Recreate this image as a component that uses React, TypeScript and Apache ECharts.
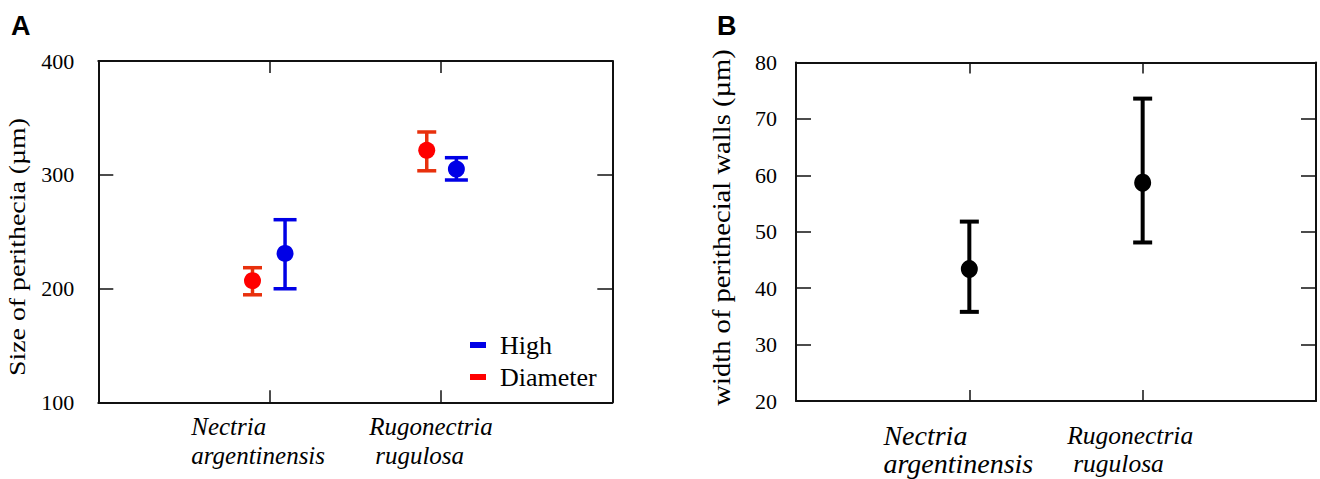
import React, { useEffect, useRef } from "react";
import * as echarts from "echarts";

// ---- data ----
const categoryLines = [
  ["Nectria", "argentinensis"],
  ["Rugonectria", "rugulosa"],
];
const seriesNames = ["High", "Diameter"];

// Panel A: size of perithecia (µm)
const diameterMean = [206.9, 321.5];
const diameterLow = [194.5, 303.5];
const diameterHigh = [218.3, 337.6];
const highMean = [230.9, 305.0];
const highLow = [199.8, 295.4];
const highHigh = [260.5, 315.0];
const sizeAxis = { min: 100, max: 400, interval: 100 };

// Panel B: width of perithecial walls (µm)
const wallMean = [43.4, 58.7];
const wallLow = [35.8, 48.1];
const wallHigh = [51.8, 73.6];
const wallAxis = { min: 20, max: 80, interval: 10 };

// dodge of the two series around each category (data units)
const DODGE_DIAMETER = [-0.1, -0.083];
const DODGE_HIGH = [0.09, 0.09];

const SERIF = "Liberation Serif";
const SANS = "Liberation Sans";
const INK = "#000";

const RED_BAR = "#e8300c";
const RED_DOT = "#ff0000";
const BLUE = "#0000e6";
const BLACK = "#000000";

function errRender(capW: number, color: string, lw: number) {
  return (params: any, api: any) => {
    const x = api.value(0);
    const lo = api.coord([x, api.value(1)]);
    const hi = api.coord([x, api.value(2)]);
    const h = capW / 2;
    const style = { stroke: color, lineWidth: lw };
    return {
      type: "group",
      children: [
        { type: "line", shape: { x1: lo[0], y1: lo[1], x2: hi[0], y2: hi[1] }, style },
        { type: "line", shape: { x1: lo[0] - h, y1: lo[1], x2: lo[0] + h, y2: lo[1] }, style },
        { type: "line", shape: { x1: hi[0] - h, y1: hi[1], x2: hi[0] + h, y2: hi[1] }, style },
      ],
    };
  };
}

function frameAxes(gridIndex: number, yCfg: { min: number; max: number; interval: number }, xTickLen: number) {
  const line = { show: true, onZero: false, lineStyle: { color: "#111", width: 2 } };
  const mk = (kind: "x" | "y", position: string, len: number) => ({
    gridIndex,
    type: "value",
    position,
    min: kind === "x" ? 0 : yCfg.min,
    max: kind === "x" ? 3 : yCfg.max,
    interval: kind === "x" ? 1 : yCfg.interval,
    axisLine: line,
    axisTick: { show: true, inside: true, length: len, lineStyle: { color: "#111", width: 1.5 } },
    splitLine: { show: false },
    axisLabel: { show: false } as any,
  });
  return {
    xs: [mk("x", "bottom", xTickLen), mk("x", "top", xTickLen)],
    ys: [mk("y", "left", 15), mk("y", "right", 15)],
  };
}

function catRich(nSize: number, rSize: number, lh: number, pads: number[]) {
  const base = (size: number) => ({
    align: "left",
    fontStyle: "italic",
    fontFamily: SERIF,
    fontSize: size,
    lineHeight: lh,
    color: INK,
  });
  return {
    n1: base(nSize),
    n2: { ...base(nSize), padding: [0, pads[0], 0, 0] },
    r1: { ...base(rSize), padding: [0, pads[1], 0, 0] },
    r2: { ...base(rSize), padding: [0, 0, 0, pads[2]] },
  };
}

const catFormatter = (v: number) =>
  v === 1
    ? `{n1|${categoryLines[0][0]}}\n{n2|${categoryLines[0][1]}}`
    : v === 2
    ? `{r1|${categoryLines[1][0]}}\n{r2|${categoryLines[1][1]}}`
    : "";

export default function App() {
  const ref = useRef<HTMLDivElement>(null);

  useEffect(() => {
    if (!ref.current) return;
    const chart = echarts.init(ref.current, null, { renderer: "svg" });

    const a = frameAxes(0, sizeAxis, 12);
    const b = frameAxes(1, wallAxis, 11);

    a.xs[0].axisLabel = {
      show: true,
      margin: 10,
      fontFamily: SERIF,
      formatter: catFormatter,
      rich: catRich(25, 25, 29, [23, 20, 6]),
    };
    b.xs[0].axisLabel = {
      show: true,
      margin: 20,
      fontFamily: SERIF,
      formatter: catFormatter,
      rich: catRich(28, 25.5, 28, [22, 25, 6]),
    };

    a.ys[0].axisLabel = {
      show: true,
      margin: 24,
      fontFamily: SERIF,
      fontSize: 22,
      color: INK,
      padding: [8, 0, 0, 0],
    };
    b.ys[0].axisLabel = {
      show: true,
      margin: 19,
      fontFamily: SERIF,
      fontSize: 22,
      color: INK,
      padding: [9, 0, 0, 0],
    };

    const xA = (i: number, d: number[]) => i + 1 + d[i];

    const option: any = {
      animation: false,
      backgroundColor: "#ffffff",
      textStyle: { fontFamily: SERIF },
      grid: [
        { left: 98.3, top: 61, width: 514, height: 341.3 },
        { left: 796, top: 62.5, width: 520, height: 338.5 },
      ],
      xAxis: [...a.xs, ...b.xs],
      yAxis: [...a.ys, ...b.ys],
      legend: {
        data: seriesNames,
        orient: "vertical",
        left: 470,
        top: 332,
        padding: 0,
        itemWidth: 16,
        itemHeight: 6,
        itemGap: 6,
        icon: "rect",
        selectedMode: false,
        textStyle: { fontFamily: SERIF, fontSize: 26, color: INK, padding: [0, 0, 0, 9] },
      },
      graphic: [
        {
          type: "text",
          left: 11,
          top: 12,
          style: { text: "A", fontFamily: SANS, fontWeight: "bold", fontSize: 27, fill: "#000" },
        },
        {
          type: "text",
          left: 717,
          top: 12,
          style: { text: "B", fontFamily: SANS, fontWeight: "bold", fontSize: 27, fill: "#000" },
        },
        {
          type: "text",
          x: 17.5,
          y: 247,
          rotation: Math.PI / 2,
          scaleX: 1.16,
          style: {
            text: "Size of perithecia (µm)",
            fontFamily: SERIF,
            fontSize: 24,
            fill: INK,
            textAlign: "center",
            textVerticalAlign: "middle",
          },
        },
        {
          type: "text",
          x: 721.5,
          y: 227.5,
          rotation: Math.PI / 2,
          scaleX: 1.1,
          style: {
            text: "width of perithecial walls (µm)",
            fontFamily: SERIF,
            fontSize: 26,
            fill: INK,
            textAlign: "center",
            textVerticalAlign: "middle",
          },
        },
      ],
      series: [
        {
          name: "Diameter-err",
          type: "custom",
          xAxisIndex: 0,
          yAxisIndex: 0,
          renderItem: errRender(19, RED_BAR, 3.5),
          encode: { x: 0, y: [1, 2] },
          data: diameterMean.map((_, i) => [xA(i, DODGE_DIAMETER), diameterLow[i], diameterHigh[i]]),
          z: 2,
        },
        {
          name: "High-err",
          type: "custom",
          xAxisIndex: 0,
          yAxisIndex: 0,
          renderItem: errRender(23, BLUE, 3.5),
          encode: { x: 0, y: [1, 2] },
          data: highMean.map((_, i) => [xA(i, DODGE_HIGH), highLow[i], highHigh[i]]),
          z: 2,
        },
        {
          name: "Walls-err",
          type: "custom",
          xAxisIndex: 2,
          yAxisIndex: 2,
          renderItem: errRender(19, BLACK, 4),
          encode: { x: 0, y: [1, 2] },
          data: wallMean.map((_, i) => [i + 1, wallLow[i], wallHigh[i]]),
          z: 2,
        },
        {
          name: "High",
          type: "scatter",
          xAxisIndex: 0,
          yAxisIndex: 0,
          symbol: "circle",
          symbolSize: 17,
          itemStyle: { color: BLUE, opacity: 1 },
          data: highMean.map((v, i) => [xA(i, DODGE_HIGH), v]),
          z: 3,
        },
        {
          name: "Diameter",
          type: "scatter",
          xAxisIndex: 0,
          yAxisIndex: 0,
          symbol: "circle",
          symbolSize: 17,
          itemStyle: { color: RED_DOT, opacity: 1 },
          data: diameterMean.map((v, i) => [xA(i, DODGE_DIAMETER), v]),
          z: 3,
        },
        {
          name: "Walls",
          type: "scatter",
          xAxisIndex: 2,
          yAxisIndex: 2,
          symbol: "circle",
          symbolSize: [17, 18],
          itemStyle: { color: BLACK, opacity: 1 },
          data: wallMean.map((v, i) => [i + 1, v]),
          z: 3,
        },
      ],
    };

    chart.setOption(option);
    return () => chart.dispose();
  }, []);

  return (
    <div
      ref={ref}
      style={{ position: "fixed", left: 0, top: 0, width: 1320, height: 479, background: "#fff" }}
    />
  );
}
